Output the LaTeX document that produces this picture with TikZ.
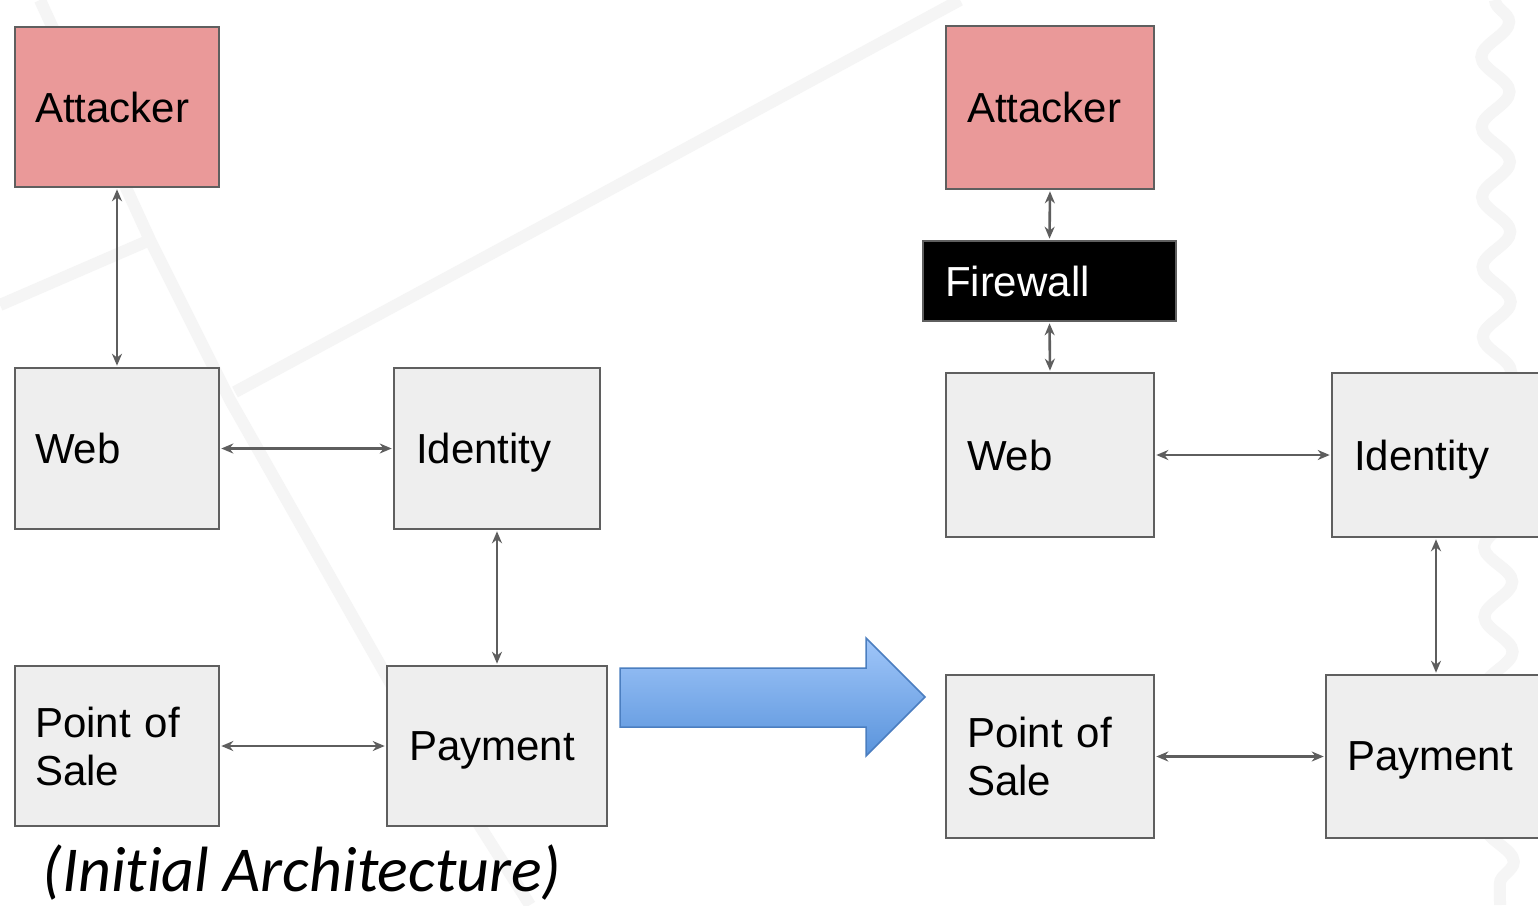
\documentclass[tikz,border=0pt]{standalone}
\usepackage{fontspec}
\setmainfont{Liberation Sans}
\newfontfamily\capfont[Ligatures=NoCommon]{Carlito}
\usetikzlibrary{arrows.meta,decorations.pathmorphing}
\definecolor{atk}{HTML}{EA9999}
\definecolor{boxgray}{HTML}{EEEEEE}
\definecolor{bdr}{HTML}{5F5F5F}
\definecolor{arr}{HTML}{5E5E5E}
\definecolor{bgl}{HTML}{F5F5F5}
\definecolor{blueTop}{HTML}{A0C6F9}
\definecolor{blueBot}{HTML}{5A94DC}
\definecolor{blueEdge}{HTML}{4B7EC0}
\tikzset{
  box/.style={draw=bdr, line width=1.6pt, fill=boxgray, inner xsep=20pt, inner ysep=0pt,
    align=left, font=\fontsize{42}{48}\selectfont, text=black},
  one/.style={text depth=0pt},
  conn/.style={draw=arr, line width=2.6pt,
    {Stealth[length=12pt,width=10pt]}-{Stealth[length=12pt,width=10pt]},
    shorten >=1.5pt, shorten <=1.5pt},
  bgline/.style={draw=bgl, line width=12pt}
}
\begin{document}
\begin{tikzpicture}[x=1pt,y=-1pt]
\useasboundingbox[fill=white] (0,0) rectangle (1538,905);
% faint background watermark
\draw[bgline] (40,0) -- (150,240) -- (230,400) -- (400,700) -- (530,905);
\draw[bgline] (0,305) -- (150,240);
\draw[bgline] (235,392) -- (600,195) -- (960,0);
\draw[bgline, decorate, decoration={snake, amplitude=14pt, segment length=70pt}] (1495,0) -- (1500,905);
% left diagram
\node[box, one, fill=atk, minimum width=204pt, minimum height=160pt, text width=164pt] (a1) at (117,107) {Attacker};
\node[box, one, minimum width=204pt, minimum height=161pt, text width=164pt] (w1) at (117,448.5) {Web};
\node[box, one, inner xsep=22pt, minimum width=206pt, minimum height=161pt, text width=162pt] (i1) at (497,448.5) {Identity};
\node[box, minimum width=204pt, minimum height=160pt, text width=164pt] (p1) at (117,746) {Point of\\Sale};
\node[box, one, inner xsep=22pt, minimum width=220pt, minimum height=160pt, text width=176pt] (y1) at (497,746) {Payment};
\draw[conn] (a1.south) -- (w1.north);
\draw[conn] (w1.east) -- (i1.west);
\draw[conn] (i1.south) -- (y1.north);
\draw[conn] (p1.east) -- (y1.west);
% caption
\node[anchor=base, font=\capfont\itshape\fontsize{64}{70}\selectfont, inner sep=0pt] (cap) at (302,891) {(Ini\kern0pt tial Architecture)};
% big blue arrow
\shade[top color=blueTop, bottom color=blueBot, draw=blueEdge, line width=1.5pt, line join=miter]
  (620,668) -- (866,668) -- (866,638) -- (925,697) -- (866,756) -- (866,727) -- (620,727) -- cycle;
% right diagram
\node[box, one, inner xsep=21pt, fill=atk, minimum width=208pt, minimum height=163pt, text width=166pt] (a2) at (1050,107.5) {Attacker};
\node[box, one, inner xsep=22pt, fill=black, text=white, minimum width=253pt, minimum height=80pt, text width=209pt] (f2) at (1049.5,281) {Firewall};
\node[box, one, inner xsep=21pt, minimum width=208pt, minimum height=164pt, text width=166pt] (w2) at (1050,455) {Web};
\node[box, one, inner xsep=22pt, minimum width=210pt, minimum height=164pt, text width=166pt] (i2) at (1437,455) {Identity};
\node[box, inner xsep=21pt, minimum width=208pt, minimum height=163pt, text width=166pt] (p2) at (1050,756.5) {Point of\\Sale};
\node[box, one, inner xsep=21pt, minimum width=216pt, minimum height=163pt, text width=174pt] (y2) at (1434,756.5) {Payment};
\draw[conn] (a2.south) -- (f2.north);
\draw[conn] (f2.south) -- (w2.north);
\draw[conn] (w2.east) -- (i2.west);
\draw[conn] ([xshift=-1pt]i2.south) -- ([xshift=-1pt]i2.south |- y2.north);
\draw[conn] (p2.east) -- (y2.west);
\end{tikzpicture}
\end{document}
